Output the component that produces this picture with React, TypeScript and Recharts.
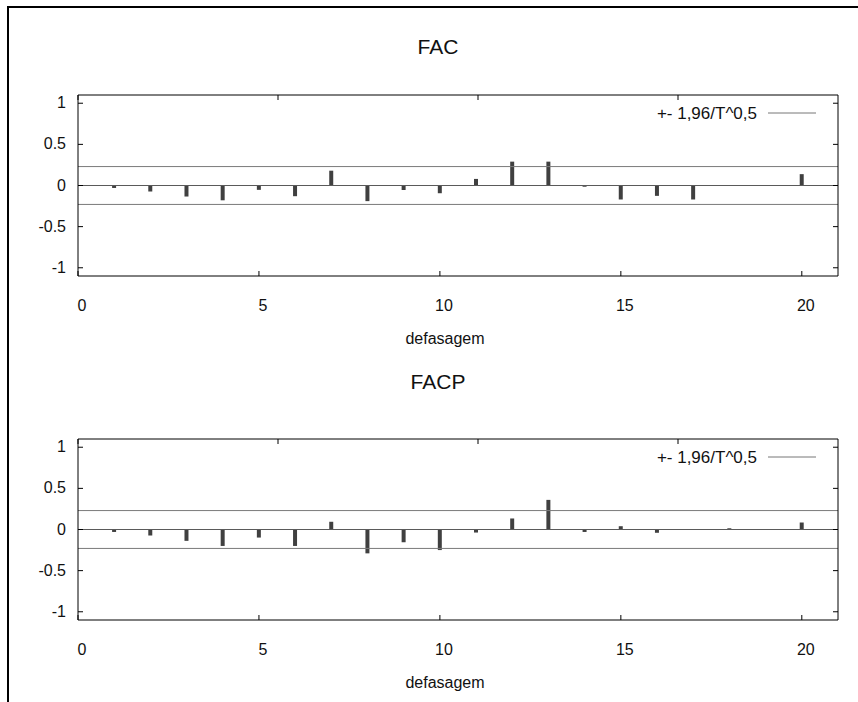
import React from "react";
import {
  ComposedChart,
  Bar,
  XAxis,
  YAxis,
  ReferenceLine,
  Legend,
  Label,
} from "recharts";

const lags = [1, 2, 3, 4, 5, 6, 7, 8, 9, 10, 11, 12, 13, 14, 15, 16, 17, 18, 19, 20];
const facValues = [
  -0.03, -0.073, -0.134, -0.18, -0.053, -0.13, 0.18, -0.19, -0.055, -0.094,
  0.08, 0.29, 0.29, -0.015, -0.17, -0.126, -0.17, 0.003, -0.005, 0.138,
];
const facpValues = [
  -0.03, -0.073, -0.138, -0.2, -0.098, -0.2, 0.094, -0.29, -0.155, -0.25,
  -0.037, 0.134, 0.36, -0.03, 0.04, -0.04, 0.0, 0.015, 0.0, 0.085,
];
const band = 0.23;
const xTicks = [0, 5, 10, 15, 20];
const yTicks = [-1, -0.5, 0, 0.5, 1];
const legendLabel = "+- 1,96/T^0,5";

const FONT = '"Liberation Sans", Arial, sans-serif';
const FS = 16;
const GAP = 12;
const MARK = 5;

const LeftTick = (p: any) => (
  <g>
    <line x1={p.x + GAP} x2={p.x + GAP + MARK} y1={p.y} y2={p.y} stroke="#000" />
    <text x={p.x} y={p.y} dy={5} textAnchor="end" fontSize={FS} fontFamily={FONT} fill="#111">
      {String(p.payload.value)}
    </text>
  </g>
);

const RightTick = (p: any) => (
  <line x1={p.x - MARK} x2={p.x} y1={p.y} y2={p.y} stroke="#000" />
);

const TopTick = (p: any) => (
  <line x1={p.x} x2={p.x} y1={p.y} y2={p.y + MARK} stroke="#000" />
);

const BottomTick = (p: any) => (
  <g>
    <line x1={p.x} x2={p.x} y1={p.y - MARK} y2={p.y} stroke="#000" />
    <text x={p.x + 4} y={p.y + 35} textAnchor="middle" fontSize={FS} fontFamily={FONT} fill="#111">
      {String(p.payload.value)}
    </text>
  </g>
);

const LegendBox = () => (
  <svg width={858} height={130} style={{ display: "block", pointerEvents: "none" }}>
    <text x={757} y={119} textAnchor="end" fontSize={17} fontFamily={FONT} fill="#111">
      {legendLabel}
    </text>
    <line x1={768} x2={816} y1={113} y2={113} stroke="#777" />
  </svg>
);

type PanelProps = { values: number[]; top: number };

const Panel = ({ values, top }: PanelProps) => {
  const data = lags.map((lag, i) => ({ lag, value: values[i] }));
  return (
    <div style={{ position: "absolute", left: 0, top }}>
      <ComposedChart
        width={858}
        height={352}
        data={data}
        margin={{ top: 94, right: 19, left: 38, bottom: 8 }}
      >
        <XAxis
          dataKey="lag"
          type="number"
          domain={[0, 21]}
          ticks={xTicks}
          interval={0}
          allowDataOverflow
          height={68}
          tickSize={0}
          tickMargin={0}
          tickLine={false}
          axisLine={{ stroke: "#000" }}
          tick={BottomTick}
        >
          <Label
            value="defasagem"
            position="insideBottom"
            offset={0}
            dx={-13}
            style={{ fontSize: FS, fontFamily: FONT, fill: "#111" }}
          />
        </XAxis>
        <XAxis
          xAxisId="top"
          orientation="top"
          type="number"
          domain={[0, 21]}
          ticks={xTicks}
          interval={0}
          allowDataOverflow
          height={1}
          tickSize={0}
          tickMargin={0}
          tickLine={false}
          axisLine={{ stroke: "#000" }}
          tick={TopTick}
        />
        <YAxis
          type="number"
          domain={[-1.1, 1.1]}
          ticks={yTicks}
          interval={0}
          allowDataOverflow
          width={40}
          tickSize={0}
          tickMargin={GAP}
          tickLine={false}
          axisLine={{ stroke: "#000" }}
          tick={LeftTick}
        />
        <YAxis
          yAxisId="right"
          orientation="right"
          type="number"
          domain={[-1.1, 1.1]}
          ticks={yTicks}
          interval={0}
          allowDataOverflow
          width={1}
          tickSize={0}
          tickMargin={0}
          tickLine={false}
          axisLine={{ stroke: "#000" }}
          tick={RightTick}
        />
        <ReferenceLine y={band} stroke="#7a7a7a" />
        <ReferenceLine y={-band} stroke="#7a7a7a" />
        <ReferenceLine y={0} stroke="#5a5a5a" />
        <Bar dataKey="value" fill="#404040" barSize={4} isAnimationActive={false} />
        <Legend
          layout="horizontal"
          verticalAlign="middle"
          align="center"
          wrapperStyle={{ left: 0, top: 0, width: 858, height: 130 }}
          content={LegendBox}
        />
      </ComposedChart>
    </div>
  );
};

const titleStyle = (top: number): React.CSSProperties => ({
  position: "absolute",
  left: 338,
  width: 200,
  top,
  textAlign: "center",
  fontFamily: FONT,
  fontSize: 21,
  lineHeight: "24px",
  color: "#111",
});

export default function App() {
  return (
    <div style={{ position: "absolute", left: 0, top: 0, width: 858, height: 702, background: "#fff", overflow: "hidden" }}>
      <div
        style={{
          position: "absolute",
          left: 7,
          top: 6,
          width: 860,
          height: 710,
          borderLeft: "2px solid #000",
          borderTop: "2px solid #000",
        }}
      />
      <div style={titleStyle(35)}>FAC</div>
      <Panel values={facValues} top={0} />
      <div style={titleStyle(370)}>FACP</div>
      <Panel values={facpValues} top={344} />
    </div>
  );
}
